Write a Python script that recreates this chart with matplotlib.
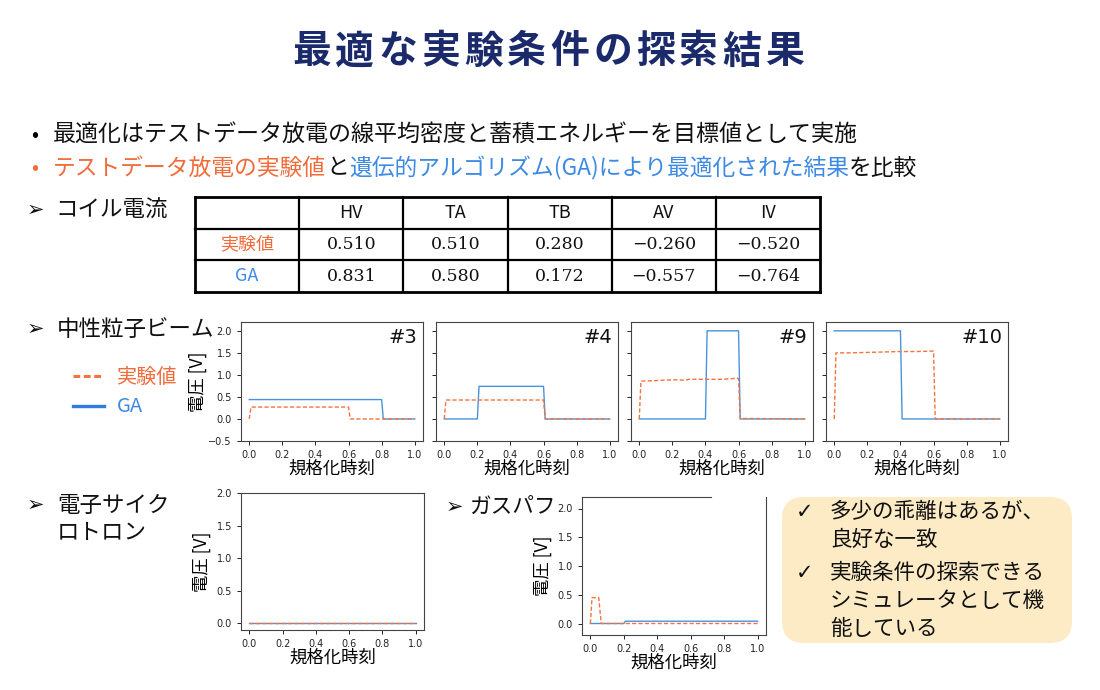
import matplotlib
matplotlib.use("Agg")
import matplotlib.pyplot as plt
from matplotlib.patches import FancyBboxPatch

JP = ['Noto Sans CJK JP', 'DejaVu Sans']
plt.rcParams['font.family'] = JP

W, H = 1100, 690

# colours
ORANGE = '#f26b3a'
BLUE = '#3d8ae5'
NAVY = '#1b2a6b'
EXP_LINE = '#f4733f'
GA_LINE = '#4a92dc'

title = '最適な実験条件の探索結果'

# coil current table
tbl_cols = ['HV', 'TA', 'TB', 'AV', 'IV']
tbl_rows = ['実験値', 'GA']
tbl_exp = [0.510, 0.510, 0.280, -0.260, -0.520]
tbl_ga = [0.831, 0.580, 0.172, -0.557, -0.764]

# neutral beam waveforms (normalised time, voltage)
nb_names = ['#3', '#4', '#9', '#10']
s3_t_exp = [0.0, 0.01, 0.6, 0.61, 1.0]
s3_v_exp = [0.0, 0.27, 0.27, 0.0, 0.0]
s3_t_ga = [0.0, 0.8, 0.81, 1.0]
s3_v_ga = [0.44, 0.44, 0.0, 0.0]
s4_t_exp = [0.0, 0.01, 0.6, 0.61, 1.0]
s4_v_exp = [0.0, 0.43, 0.43, 0.0, 0.0]
s4_t_ga = [0.0, 0.2, 0.21, 0.6, 0.61, 1.0]
s4_v_ga = [0.0, 0.0, 0.74, 0.74, 0.0, 0.0]
s9_t_exp = [0.0, 0.01, 0.1, 0.2, 0.28, 0.3, 0.4, 0.5, 0.58, 0.6, 0.61, 0.7, 1.0]
s9_v_exp = [0.0, 0.86, 0.87, 0.89, 0.88, 0.9, 0.9, 0.9, 0.92, 0.92, 0.01, 0.01, 0.0]
s9_t_ga = [0.0, 0.4, 0.41, 0.6, 0.61, 1.0]
s9_v_ga = [0.0, 0.0, 2.0, 2.0, 0.0, 0.0]
s10_t_exp = [0.0, 0.01, 0.1, 0.2, 0.3, 0.4, 0.5, 0.6, 0.61, 1.0]
s10_v_exp = [0.0, 1.5, 1.5, 1.51, 1.52, 1.53, 1.53, 1.54, 0.0, 0.0]
s10_t_ga = [0.0, 0.4, 0.41, 1.0]
s10_v_ga = [2.0, 2.0, 0.0, 0.0]

# electron cyclotron
ecr_t_exp = [0.0, 1.0]
ecr_v_exp = [0.0, 0.0]
ecr_t_ga = [0.0, 1.0]
ecr_v_ga = [0.0, 0.0]

# gas puff
gp_t_exp = [0.0, 0.01, 0.05, 0.065, 1.0]
gp_v_exp = [0.0, 0.45, 0.45, 0.0, 0.0]
gp_t_ga = [0.0, 0.2, 0.21, 1.0]
gp_v_ga = [0.0, 0.0, 0.04, 0.04]

fig = plt.figure(figsize=(11, 6.9), dpi=100)
fig.patch.set_facecolor('white')


def txt(x, y, s, **kw):
    # x, y in image pixels (y from top)
    kw.setdefault('va', 'center')
    kw.setdefault('ha', 'left')
    kw.setdefault('family', JP)
    return fig.text(x / W, 1 - y / H, s, **kw)


def multi(x, y, parts, size):
    r = fig.canvas.get_renderer()
    for s, c in parts:
        t = txt(x, y, s, color=c, fontsize=size)
        bb = t.get_window_extent(renderer=r)
        x += bb.width


def ax_at(l, r, top, bot):
    return fig.add_axes([l / W, 1 - bot / H, (r - l) / W, (bot - top) / H])


# title, spaced out a little like the slide
for i, ch in enumerate(title):
    txt(290 + 21.5 + 43 * i, 52, ch, ha='center', fontsize=28,
        fontweight='bold', color=NAVY)

# bullets
BODY = 16.6
txt(31, 135, '•', fontsize=15, color='black')
txt(53, 135, '最適化はテストデータ放電の線平均密度と蓄積エネルギーを目標値として実施',
    fontsize=BODY, color='#111111')
txt(31, 168, '•', fontsize=15, color=ORANGE)
multi(53, 168, [('テストデータ放電の実験値', ORANGE), ('と', '#111111'),
                ('遺伝的アルゴリズム(GA)により最適化された結果', BLUE),
                ('を比較', '#111111')], 16.4)

# section headings
ARW = dict(fontsize=15, color='#111111', family=['DejaVu Sans'], fontweight='bold')
txt(27, 210, '➢', **ARW)
txt(55, 210, 'コイル電流', fontsize=16.2, color='#111111')
txt(27, 329, '➢', **ARW)
txt(57, 329, '中性粒子ビーム', fontsize=16.2, color='#111111')
txt(27, 505, '➢', **ARW)
txt(57, 505, '電子サイク', fontsize=16.2, color='#111111')
txt(57, 533, 'ロトロン', fontsize=16.2, color='#111111')
txt(446, 507, '➢', **ARW)
txt(469, 507, 'ガスパフ', fontsize=15.6, color='#111111')

# legend for waveforms
lax = fig.add_axes([0, 0, 1, 1], facecolor='none')
lax.set_xlim(0, W)
lax.set_ylim(H, 0)
lax.axis('off')
lax.plot([73, 104], [376, 376], color=EXP_LINE, lw=2.2, ls=(0, (2.2, 1.2)))
lax.plot([73, 104], [406, 406], color='#2f7be0', lw=2.4)
txt(117, 377, '実験値', fontsize=14.5, color=ORANGE)
txt(117, 407, 'GA', fontsize=14.5, color=BLUE)

# table
tax = ax_at(195, 820, 197, 292)
tax.set_xlim(0, 6)
tax.set_ylim(3, 0)
tax.axis('off')
for i in range(4):
    tax.plot([0, 6], [i, i], color='black', lw=2 if i in (0, 3) else 1.6,
             solid_capstyle='projecting', clip_on=False)
for j in range(7):
    tax.plot([j, j], [0, 3], color='black', lw=2 if j in (0, 6) else 1.6,
             solid_capstyle='projecting', clip_on=False)
for j, c in enumerate(tbl_cols):
    tax.text(j + 1.5, 0.5, c, ha='center', va='center', fontsize=13,
             color='#111111', family=JP)
row_colors = [ORANGE, BLUE]
for i, (name, vals) in enumerate(zip(tbl_rows, [tbl_exp, tbl_ga])):
    tax.text(0.5, i + 1.5, name, ha='center', va='center', fontsize=13,
             color=row_colors[i], family=JP)
    for j, v in enumerate(vals):
        s = f'{v:.3f}'.replace('-', '−')
        tax.text(j + 1.5, i + 1.5, s, ha='center', va='center', fontsize=12.5,
                 color='#111111', family=['DejaVu Serif'])


def style(ax, ylim, ylabels=True):
    ax.set_xlim(-0.05, 1.05)
    ax.set_ylim(*ylim)
    ax.set_xticks([0.0, 0.2, 0.4, 0.6, 0.8, 1.0])
    ax.tick_params(labelsize=7, colors='#222222', length=3, width=0.7)
    ax.set_xticklabels(['0.0', '0.2', '0.4', '0.6', '0.8', '1.0'],
                       family=['DejaVu Sans'])
    if not ylabels:
        ax.tick_params(axis='y', labelleft=False)
    for sp in ax.spines.values():
        sp.set_color('#444444')
        sp.set_linewidth(0.8)
    ax.set_xlabel('規格化時刻', fontsize=12.5, labelpad=0, family=JP)


def waves(ax, te, ve, tg, vg):
    ax.plot(tg, vg, color=GA_LINE, lw=1.0)
    ax.plot(te, ve, color=EXP_LINE, lw=1.0, ls=(0, (3, 1.6)))


nb_data = [(s3_t_exp, s3_v_exp, s3_t_ga, s3_v_ga),
           (s4_t_exp, s4_v_exp, s4_t_ga, s4_v_ga),
           (s9_t_exp, s9_v_exp, s9_t_ga, s9_v_ga),
           (s10_t_exp, s10_v_exp, s10_t_ga, s10_v_ga)]
nb_lefts = [241, 436, 631, 826]
for k, (name, d, l) in enumerate(zip(nb_names, nb_data, nb_lefts)):
    ax = ax_at(l, l + 182, 322, 441)
    waves(ax, *d)
    style(ax, (-0.5, 2.2), ylabels=(k == 0))
    ax.set_yticks([-0.5, 0.0, 0.5, 1.0, 1.5, 2.0])
    if k == 0:
        ax.set_yticklabels(['−0.5', '0.0', '0.5', '1.0', '1.5', '2.0'],
                           family=['DejaVu Sans'])
        ax.set_ylabel('電圧 [V]', fontsize=12.5, labelpad=1, family=JP)
    ax.text(0.97, 0.95, name, transform=ax.transAxes, ha='right', va='top',
            fontsize=14, color='#111111', family=['DejaVu Sans'])

# electron cyclotron
ax = ax_at(241, 424, 493, 630)
waves(ax, ecr_t_exp, ecr_v_exp, ecr_t_ga, ecr_v_ga)
style(ax, (-0.1, 2.0))
ax.set_yticks([0.0, 0.5, 1.0, 1.5, 2.0])
ax.set_yticklabels(['0.0', '0.5', '1.0', '1.5', '2.0'], family=['DejaVu Sans'])
ax.set_ylabel('電圧 [V]', fontsize=12.5, labelpad=4, family=JP)

# gas puff
ax = ax_at(582, 766, 497, 635)
waves(ax, gp_t_exp, gp_v_exp, gp_t_ga, gp_v_ga)
style(ax, (-0.2, 2.2))
ax.set_yticks([0.0, 0.5, 1.0, 1.5, 2.0])
ax.set_yticklabels(['0.0', '0.5', '1.0', '1.5', '2.0'], family=['DejaVu Sans'])
ax.set_ylabel('電圧 [V]', fontsize=12.5, labelpad=4, family=JP)
ax.spines['top'].set_visible(False)
ax.plot([0.0, 0.7], [1, 1], transform=ax.transAxes, color='#444444', lw=0.8,
        clip_on=False)

# summary box
box = FancyBboxPatch((782, 497), 290, 146, boxstyle='round,pad=0,rounding_size=22',
                     facecolor='#fdebc6', edgecolor='none')
lax.add_patch(box)
CHK = dict(fontsize=15, color='#111111', family=['DejaVu Sans'], fontweight='bold')
BOX = dict(fontsize=15.5, color='#111111')
txt(796, 512, '✓', **CHK)
txt(830, 512, '多少の乖離はあるが、', **BOX)
txt(830, 540, '良好な一致', **BOX)
txt(796, 573, '✓', **CHK)
txt(830, 573, '実験条件の探索できる', **BOX)
txt(830, 601, 'シミュレータとして機', **BOX)
txt(830, 629, '能している', **BOX)

fig.savefig('out.png', dpi=100)
